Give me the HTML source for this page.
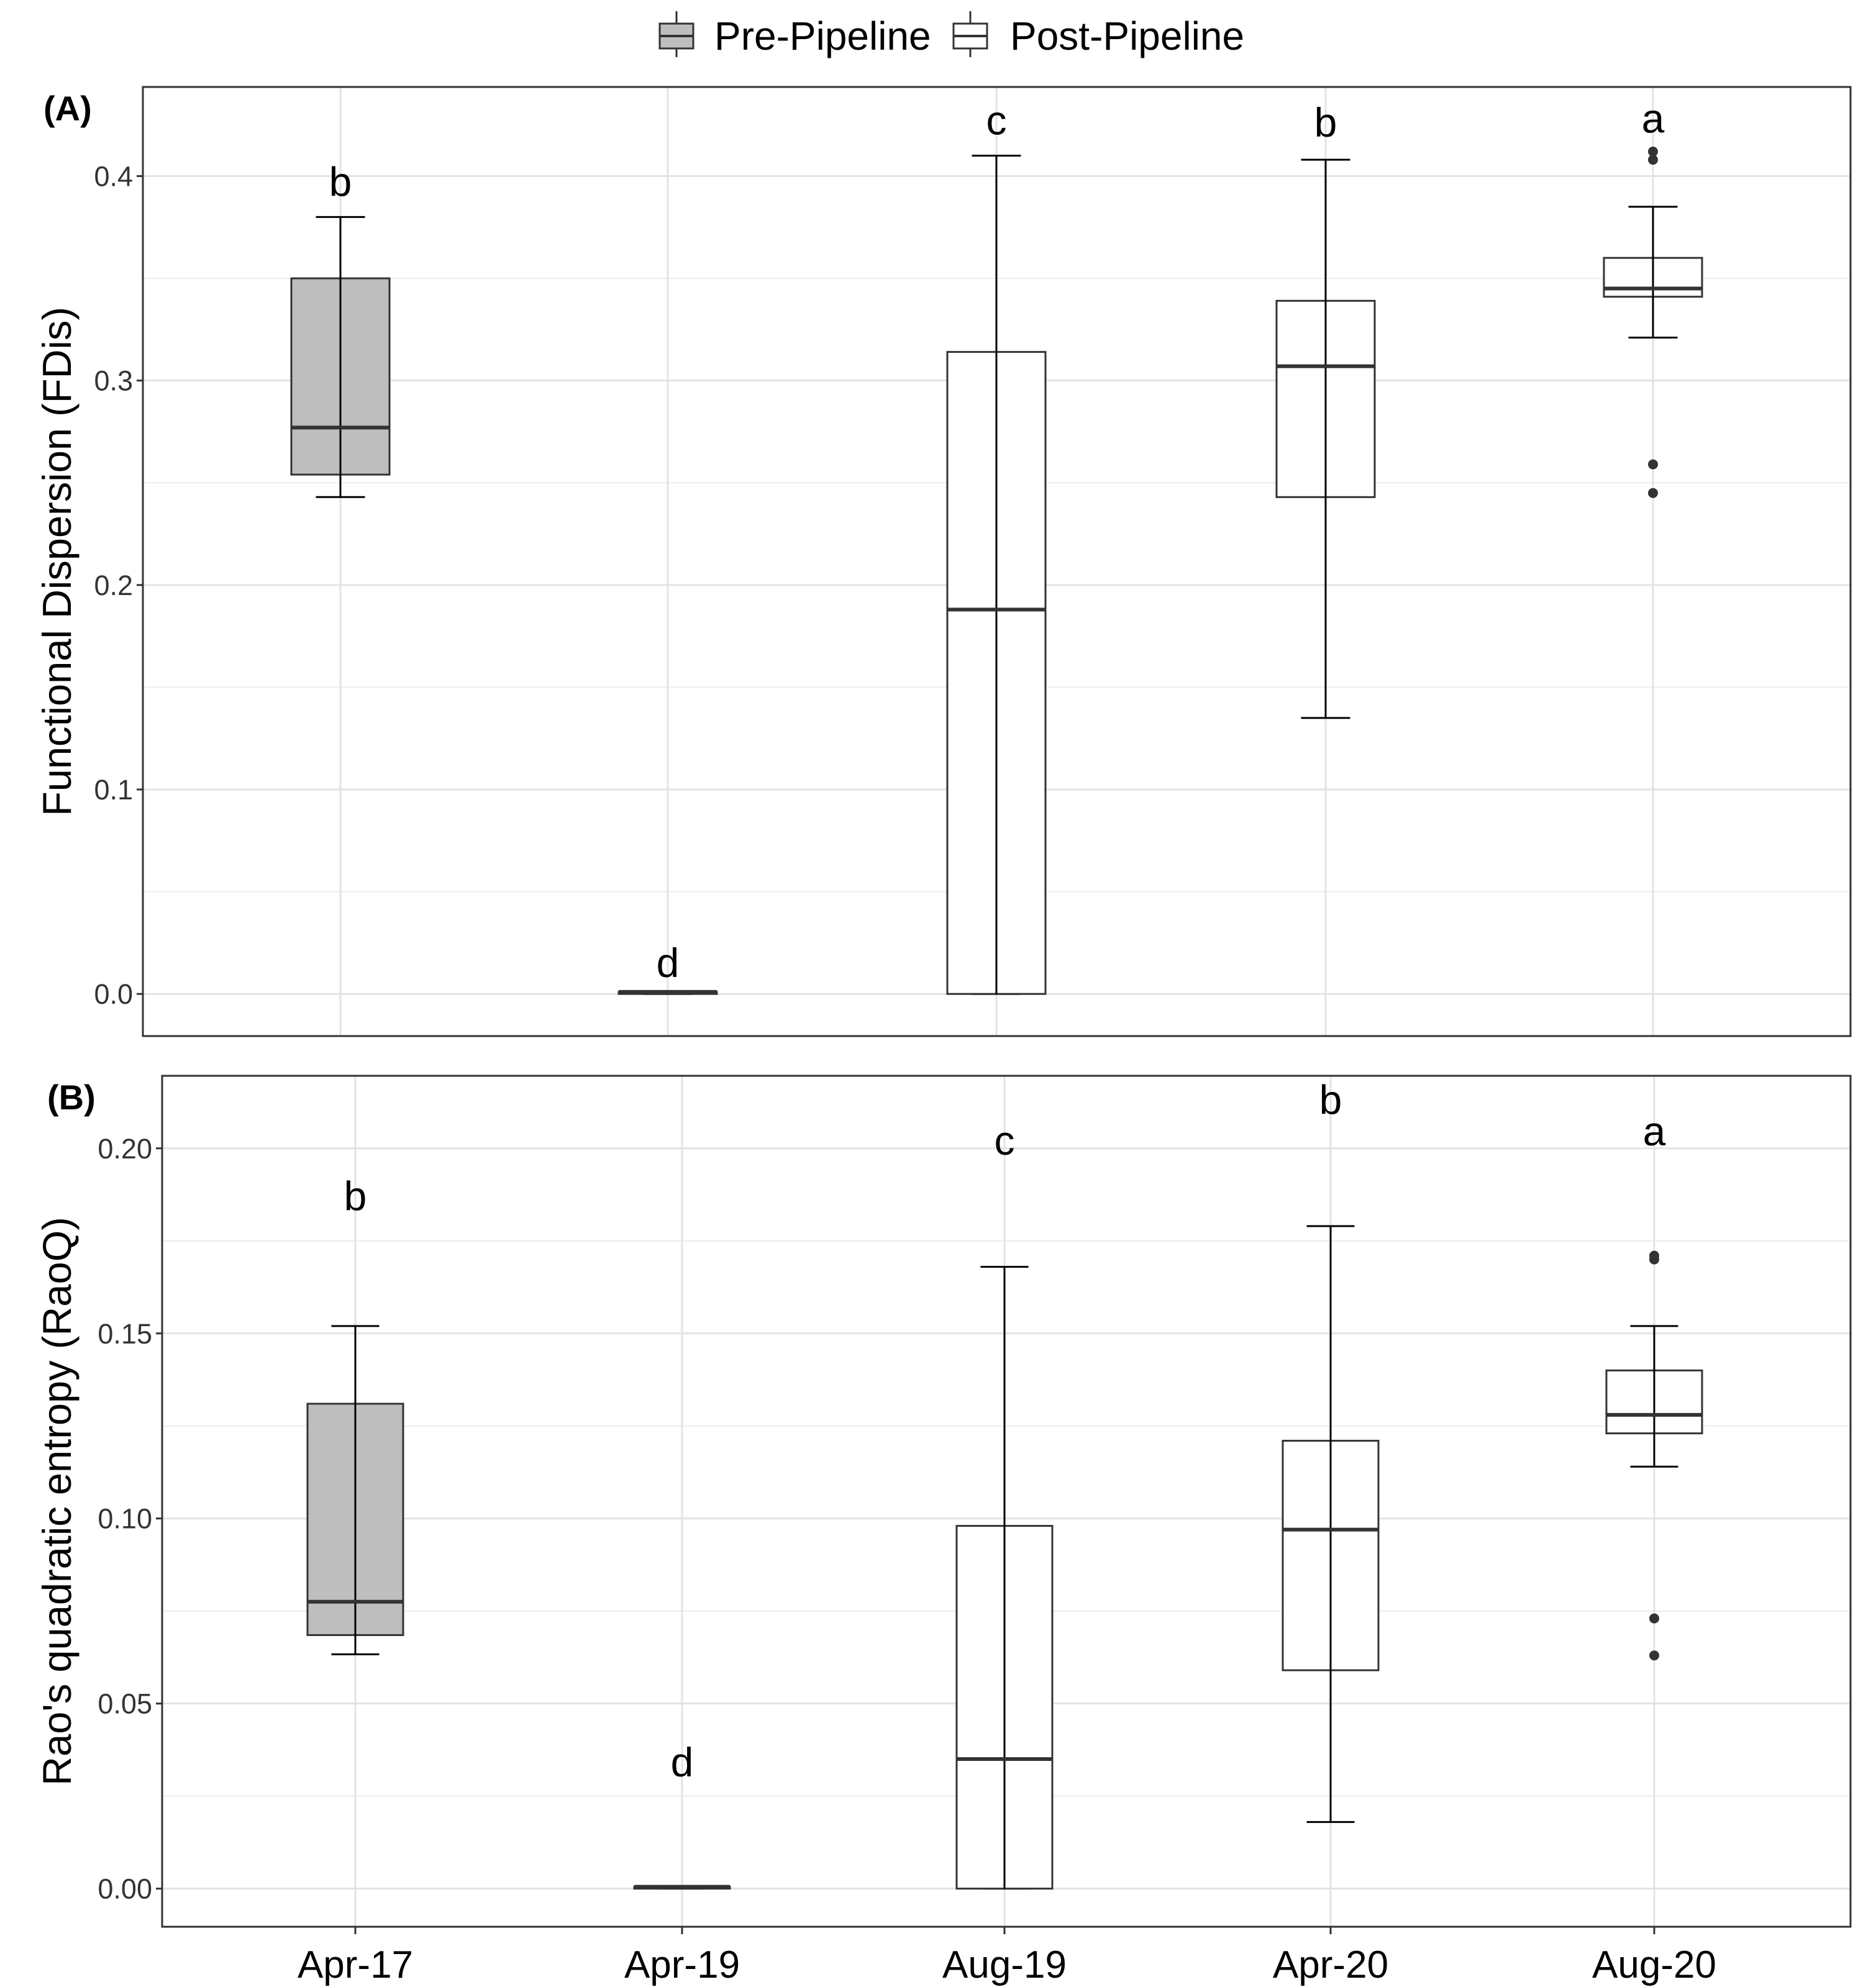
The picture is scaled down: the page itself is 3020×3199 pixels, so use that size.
<!DOCTYPE html>
<html><head><meta charset="utf-8"><style>
html,body{margin:0;padding:0;background:#fff}
svg{display:block;font-family:"Liberation Sans",Arial,sans-serif}
</style></head><body>
<svg id="chart" width="3020" height="3199" viewBox="0 0 3020 3199" xmlns="http://www.w3.org/2000/svg"></svg>
<script>
const categories = ["Apr-17","Apr-19","Aug-19","Apr-20","Aug-20"];
const groups = ["pre","post","post","post","post"];
// panel A: FDis  [low, q1, median, q3, high]
const fdisStats = [
  [0.243,0.254,0.277,0.350,0.380],
  [0.0,0.0,0.001,0.001,0.001],
  [0.0,0.0,0.188,0.314,0.410],
  [0.135,0.243,0.307,0.339,0.408],
  [0.321,0.341,0.345,0.360,0.385]
];
const fdisOutliers = [[],[],[],[],[0.412,0.408,0.259,0.245]];
const fdisLetters = ["b","d","c","b","a"];
const fdisLetterY = [0.397,0.015,0.427,0.426,0.428];
const fdisTicks = [0.0,0.1,0.2,0.3,0.4];
const fdisTickLabels = ["0.0","0.1","0.2","0.3","0.4"];
// panel B: RaoQ
const raoStats = [
  [0.0633,0.0685,0.0775,0.131,0.152],
  [0.0,0.0,0.0005,0.0005,0.0005],
  [0.0,0.0,0.035,0.098,0.168],
  [0.018,0.059,0.097,0.121,0.179],
  [0.114,0.123,0.128,0.140,0.152]
];
const raoOutliers = [[],[],[],[],[0.170,0.171,0.073,0.063]];
const raoLetters = ["b","d","c","b","a"];
const raoLetterY = [0.187,0.034,0.202,0.213,0.2045];
const raoTicks = [0.00,0.05,0.10,0.15,0.20];
const raoTickLabels = ["0.00","0.05","0.10","0.15","0.20"];

const svg = document.getElementById('chart');
const NS = "http://www.w3.org/2000/svg";
function mk(tag, attrs, parent){ const e=document.createElementNS(NS,tag); for(const k in attrs) e.setAttribute(k,attrs[k]); (parent||svg).appendChild(e); return e; }

function panel(cfg){
  const g = mk('g',{});
  
  
  const {L,R,T,B,ymin,ymax,xs,bw} = cfg;
  const y = v => B - (v - ymin)/(ymax - ymin)*(B - T);
  for(let i=0;i<cfg.ticks.length-1;i++){
    const m=(cfg.ticks[i]+cfg.ticks[i+1])/2;
    const ln = mk('line',{x1:L,x2:R,y1:y(m),y2:y(m),stroke:'#ececec','stroke-width':2},g);
    
    
  }
  cfg.ticks.forEach((t,i)=>{
    const ln = mk('line',{x1:L,x2:R,y1:y(t),y2:y(t),stroke:'#e3e3e3','stroke-width':3},g);
    
    
    const tk = mk('line',{x1:L-10,x2:L,y1:y(t),y2:y(t),stroke:'#333','stroke-width':3},g);
    
    
    const tx = mk('text',{x:L-16,y:y(t)+16,'text-anchor':'end','font-size':45,fill:'#333'},g);
    tx.textContent = cfg.tickLabels[i];
    
    
  });
  xs.forEach(x=>{
    const ln = mk('line',{x1:x,x2:x,y1:T,y2:B,stroke:'#e3e3e3','stroke-width':3},g);
    
    
    if(cfg.showX){
      const tk = mk('line',{x1:x,x2:x,y1:B,y2:B+12,stroke:'#333','stroke-width':3},g);
      
      
    }
  });
  cfg.stats.forEach((s,i)=>{
    const x = xs[i];
    const fill = groups[i]==='pre' ? '#bebebe' : '#ffffff';
    const cap = bw*0.25;
    const w1 = mk('line',{x1:x,x2:x,y1:y(s[0]),y2:y(s[4]),stroke:'#000','stroke-width':3},g);
    
    
    [s[0],s[4]].forEach(v=>{
      const c = mk('line',{x1:x-cap,x2:x+cap,y1:y(v),y2:y(v),stroke:'#000','stroke-width':3},g);
      
      
    });
    const r = mk('rect',{x:x-bw/2,y:y(s[3]),width:bw,height:Math.max(1,y(s[1])-y(s[3])),fill:fill,stroke:'#333','stroke-width':3},g);
    
    
    const wl = mk('line',{x1:x,x2:x,y1:y(s[0]),y2:y(s[4]),stroke:'#000','stroke-width':3},g);
    
    
    const md = mk('line',{x1:x-bw/2,x2:x+bw/2,y1:y(s[2]),y2:y(s[2]),stroke:'#333','stroke-width':6},g);
    
    
    cfg.outliers[i].forEach(v=>{
      const c = mk('circle',{cx:x,cy:y(v),r:8,fill:'#333'},g);
      
      
    });
    const lt = mk('text',{x:x,y:y(cfg.letterY[i])+22,'text-anchor':'middle','font-size':66,fill:'#000'},g);
    lt.textContent = cfg.letters[i];
    
    
    if(cfg.showX){
      const xl = mk('text',{x:x,y:B+82,'text-anchor':'middle','font-size':62,fill:'#000'},g);
      xl.textContent = categories[i];
      
      
    }
  });
  const fr = mk('rect',{x:L,y:T,width:R-L,height:B-T,fill:'none',stroke:'#333','stroke-width':3},g);
  
  
  const pl = mk('text',{x:cfg.labelX,y:T+54,'font-size':56,'font-weight':'bold',fill:'#000'},g);
  pl.textContent = cfg.label;
  
  
  const cy=(T+B)/2;
  const yt = mk('text',{x:0,y:0,'text-anchor':'middle','font-size':65,fill:'#000',transform:`translate(${cfg.titleX},${cy}) rotate(-90)`},g);
  yt.textContent = cfg.title;
  
  
}

panel({name:'panel-a-fdis',L:230,R:2979,T:140,B:1668,ymin:-0.0206,ymax:0.4436,
  xs:[548,1075,1604,2134,2661],bw:158,stats:fdisStats,outliers:fdisOutliers,
  letters:fdisLetters,letterY:fdisLetterY,ticks:fdisTicks,tickLabels:fdisTickLabels,
  showX:false,label:'(A)',labelX:70,title:'Functional Dispersion  (FDis)',titleX:114});
panel({name:'panel-b-raoq',L:261,R:2979,T:1732,B:3102,ymin:-0.0103,ymax:0.2196,
  xs:[572,1098,1617,2142,2663],bw:154,stats:raoStats,outliers:raoOutliers,
  letters:raoLetters,letterY:raoLetterY,ticks:raoTicks,tickLabels:raoTickLabels,
  showX:true,label:'(B)',labelX:76,title:"Rao's quadratic entropy (RaoQ)",titleX:114});

const lg = mk('g',{});


[[1062,'#bebebe','Pre-Pipeline',1150],[1535,'#ffffff','Post-Pipeline',1626]].forEach(d=>{
  const k = mk('g',{},lg);
  
  
  const cx=d[0]+27;
  mk('line',{x1:cx,x2:cx,y1:18,y2:92,stroke:'#333','stroke-width':3},k);
  mk('rect',{x:d[0],y:38,width:54,height:40,fill:d[1],stroke:'#333','stroke-width':3},k);
  mk('line',{x1:d[0],x2:d[0]+54,y1:58,y2:58,stroke:'#333','stroke-width':4},k);
  const t = mk('text',{x:d[3],y:80,'font-size':64,fill:'#000'},k);
  t.textContent=d[2];
  
  
});
</script>
</body></html>
